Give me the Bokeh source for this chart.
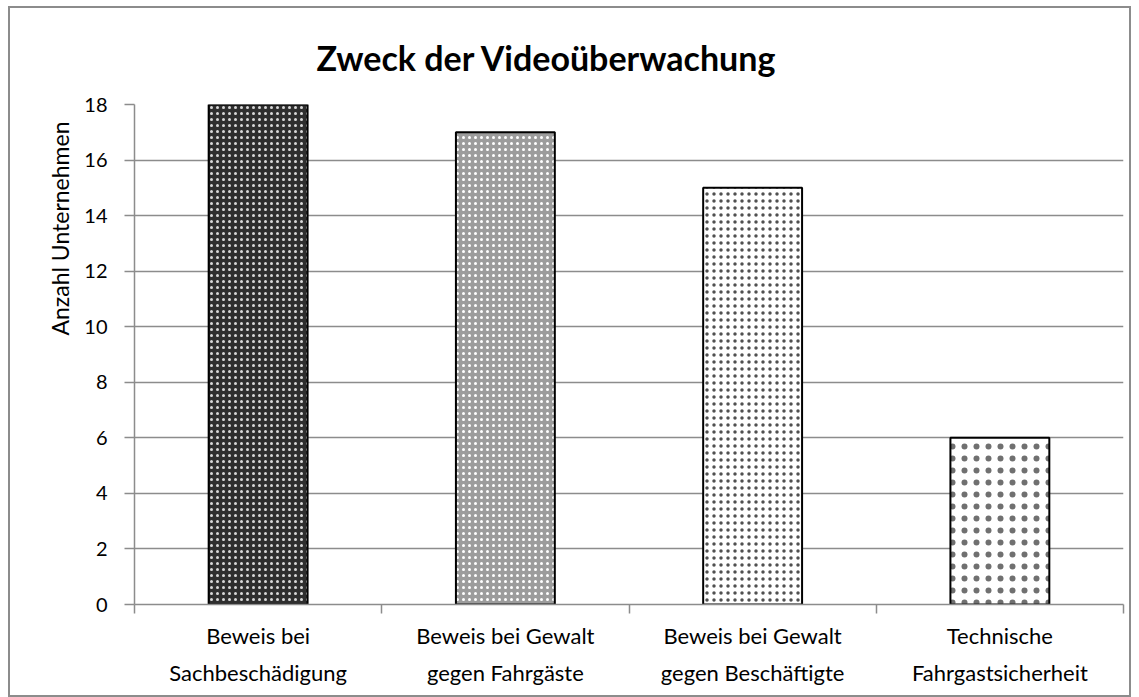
from bokeh.plotting import figure
from bokeh.models import Range1d, FixedTicker, ColumnDataSource, Title
from bokeh.embed import file_html
from bokeh.resources import INLINE

categories = ["Beweis bei\nSachbeschädigung", "Beweis bei Gewalt\ngegen Fahrgäste",
              "Beweis bei Gewalt\ngegen Beschäftigte", "Technische\nFahrgastsicherheit"]
counts = [18, 17, 15, 6]
y_ticks = [0, 2, 4, 6, 8, 10, 12, 14, 16, 18]
y_title = "Anzahl Unternehmen"

fills = ["#2e2e2e", "#9c9c9c", "white", "white"]
hatch_colors = ["#d8d8d8", "white", "#505050", "#707070"]
hatch_scales = [6, 6, 7, 12]
hatch_weights = [1.5, 1.5, 1.4, 0.9]

FONT = "Lato"
GRID = "#8c8c8c"

n = len(categories)
centers = [i + 0.5 for i in range(n)]
edges = list(range(n + 1))

src = ColumnDataSource(dict(x=centers, count=counts, fill=fills,
                            hc=hatch_colors, hs=hatch_scales, hw=hatch_weights))

p = figure(width=1123, height=691, x_range=Range1d(0, n), y_range=Range1d(0, 18),
           output_backend="svg", toolbar_location=None,
           min_border_left=124, min_border_right=10, min_border_top=96, min_border_bottom=95)
p.styles = {"border": "2px solid #8c8c8c", "box-sizing": "border-box",
            "margin-left": "8px", "margin-top": "6px"}
p.outline_line_color = None
p.xgrid.visible = False

p.vbar(x="x", top="count", width=0.4, source=src, fill_color="fill",
       line_color="black", line_width=2,
       hatch_pattern="dot", hatch_color="hc", hatch_scale="hs", hatch_weight="hw")

# y axis
ya = p.yaxis[0]
ya.ticker = FixedTicker(ticks=y_ticks)
ya.axis_line_color = GRID
ya.axis_line_width = 1.5
ya.major_tick_line_color = GRID
ya.major_tick_line_width = 1.5
ya.major_tick_out = 10
ya.major_tick_in = 0
ya.minor_tick_line_color = None
ya.major_label_text_font = FONT
ya.major_label_text_font_size = "20px"
ya.major_label_text_color = "black"
ya.major_label_standoff = 17
p.ygrid.grid_line_color = GRID
p.ygrid.grid_line_width = 1.5

# y axis title, placed in the left panel and shifted towards the top as in the source
p.add_layout(Title(text=y_title, text_font=FONT, text_font_size="23px",
                   text_font_style="normal", text_color="black",
                   align="left", offset=269, standoff=16), "left")

# x axis: labels at centres, tick marks at category boundaries
xa = p.xaxis[0]
xa.ticker = FixedTicker(ticks=centers, minor_ticks=edges)
xa.major_label_overrides = {c: lab for c, lab in zip(centers, categories)}
xa.axis_line_color = GRID
xa.axis_line_width = 1.5
xa.major_tick_line_color = None
xa.minor_tick_line_color = GRID
xa.minor_tick_line_width = 1.5
xa.minor_tick_out = 9
xa.minor_tick_in = 0
xa.major_label_text_font = FONT
xa.major_label_text_font_size = "22px"
xa.major_label_text_line_height = 1.4
xa.major_label_text_color = "black"
xa.major_label_standoff = 8

p.title = Title(text="Zweck der Videoüberwachung", text_font=FONT, text_font_size="34px",
                text_font_style="bold", text_color="black", align="left", offset=182,
                standoff=53)

open("out.html", "w").write(file_html(p, INLINE))
